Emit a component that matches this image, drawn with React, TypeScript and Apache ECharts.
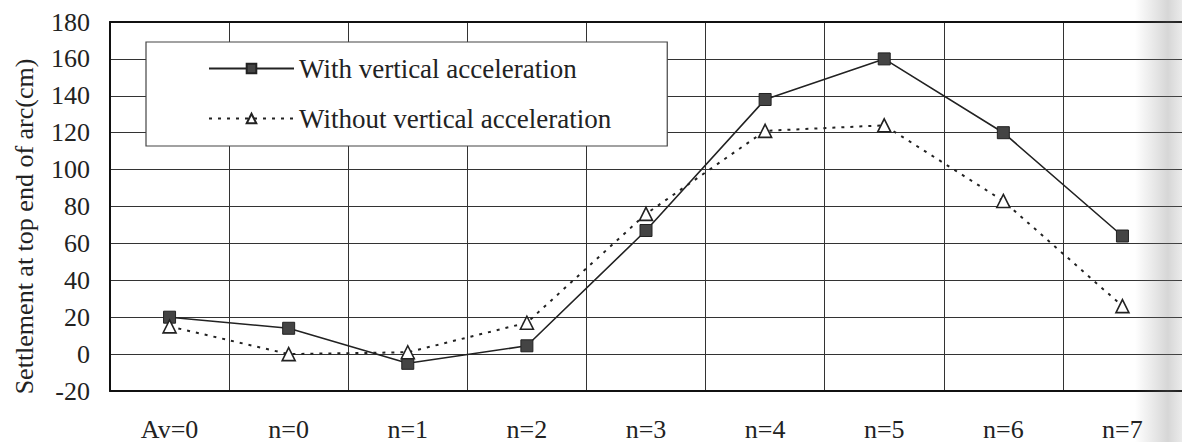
import React, { useEffect, useRef } from "react";
import * as echarts from "echarts";

const categories = ["Av=0", "n=0", "n=1", "n=2", "n=3", "n=4", "n=5", "n=6", "n=7"];
const withVertical = [20, 14, -5, 4.5, 67, 138, 160, 120, 64];
const withoutVertical = [15, 0, 1, 17, 76, 121, 124, 83, 26];
const seriesNames = ["With vertical acceleration", "Without vertical acceleration"];
const yTitle = "Settlement at top end of arc(cm)";

const FONT = "Liberation Serif";
const FS = 26;
const LEGEND_FS = 27;

export default function App() {
  const ref = useRef<HTMLDivElement>(null);

  useEffect(() => {
    if (!ref.current) return;
    const chart = echarts.init(ref.current, undefined, { renderer: "svg" });
    chart.setOption({
      animation: false,
      backgroundColor: "#fff",
      textStyle: { fontFamily: FONT, color: "#222" },
      grid: { left: 110, top: 22, width: 1089, height: 370, containLabel: false },
      legend: {
        orient: "vertical",
        left: 146,
        top: 42,
        padding: [13, 56, 14, 62],
        itemGap: 23,
        itemWidth: 85,
        itemHeight: 12,
        backgroundColor: "#fff",
        borderColor: "#444",
        borderWidth: 1.2,
        borderRadius: 0,
        data: seriesNames,
        textStyle: { fontFamily: FONT, fontSize: LEGEND_FS, color: "#222" },
      },
      xAxis: [
        {
          type: "category",
          data: categories,
          boundaryGap: true,
          axisLine: { show: true, onZero: false, lineStyle: { color: "#111", width: 2 } },
          axisTick: { show: false },
          axisLabel: { fontFamily: FONT, fontSize: FS, color: "#222", margin: 25 },
          splitLine: { show: true, lineStyle: { color: "#333", width: 1 } },
        },
        {
          type: "category",
          position: "top",
          data: categories,
          axisLine: { show: true, onZero: false, lineStyle: { color: "#111", width: 2 } },
          axisTick: { show: false },
          axisLabel: { show: false },
          splitLine: { show: false },
        },
      ],
      yAxis: {
        type: "value",
        min: -20,
        max: 180,
        interval: 20,
        name: yTitle,
        nameLocation: "middle",
        nameGap: 73,
        nameTextStyle: { fontFamily: FONT, fontSize: FS, color: "#222", padding: [0, 40, 0, 0] },
        axisLine: { show: true, lineStyle: { color: "#111", width: 2 } },
        axisTick: { show: false },
        axisLabel: { fontFamily: FONT, fontSize: FS, color: "#222", margin: 20 },
        splitLine: { show: true, lineStyle: { color: "#333", width: 1 } },
      },
      series: [
        {
          name: seriesNames[0],
          type: "line",
          data: withVertical,
          symbol: "rect",
          symbolSize: 12,
          lineStyle: { color: "#222", width: 1.6, type: "solid" },
          itemStyle: { color: "#444", borderColor: "#222", borderWidth: 1 },
          z: 3,
        },
        {
          name: seriesNames[1],
          type: "line",
          data: withoutVertical,
          symbol: "triangle",
          symbolSize: 13,
          lineStyle: { color: "#222", width: 2, type: [3, 6] },
          itemStyle: { color: "#fff", borderColor: "#222", borderWidth: 1.6 },
          z: 3,
        },
      ],
      graphic: [
        {
          type: "rect",
          silent: true,
          z: 100,
          shape: { x: 1135, y: 0, width: 47, height: 442 },
          style: {
            fill: new echarts.graphic.LinearGradient(0, 0, 1, 0, [
              { offset: 0, color: "rgba(120,120,120,0)" },
              { offset: 0.7, color: "rgba(120,120,120,0.3)" },
              { offset: 1, color: "rgba(120,120,120,0.15)" },
            ]),
          },
        },
      ],
    });
    return () => chart.dispose();
  }, []);

  return (
    <div
      ref={ref}
      style={{ position: "fixed", left: 0, top: 0, width: 1182, height: 442 }}
    />
  );
}
